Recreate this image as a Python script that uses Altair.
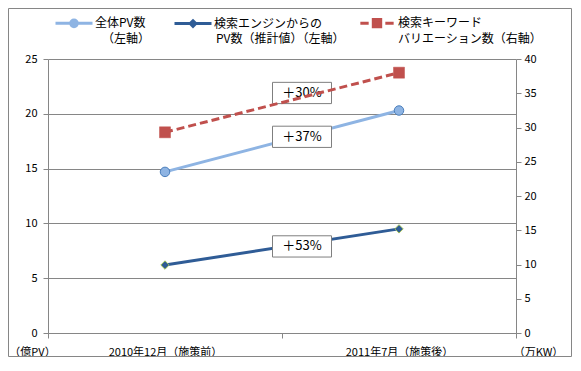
import altair as alt
import pandas as pd

FONT = "Noto Sans CJK JP"
GRAY = "#868686"

categories = ["2010年12月（施策前）", "2011年7月（施策後）"]
series_line1 = ["全体PV数", "検索エンジンからの", "検索キーワード"]
series_line2 = ["（左軸）", "PV数（推計値）（左軸）", "バリエーション数（右軸）"]
total_pv = [14.7, 20.3]          # left axis (億PV)
search_pv = [6.2, 9.5]           # left axis (億PV)
keyword_variation = [29.3, 38.0]  # right axis (万KW)
left_ticks = [0, 5, 10, 15, 20, 25]
right_ticks = [0, 5, 10, 15, 20, 25, 30, 35, 40]
annotation_labels = ["＋30%", "＋37%", "＋53%"]
annotation_y = [21.9, 17.9, 7.9]  # in left-axis units

line_colors = ["#8EB4E3", "#2F5C96", "#C0504D"]
point_fills = ["#8EB4E3", "#2F5C96", "#C0504D"]
legend_shapes = [
    "M-1,0L1,0M-0.18,0a0.18,0.18 0 1,0 0.36,0a0.18,0.18 0 1,0 -0.36,0Z",
    "M-1,0L1,0M0,-0.15L0.15,0L0,0.15L-0.15,0Z",
    "M-0.9,0L-0.45,0M0.45,0L0.9,0M-0.2,-0.2h0.4v0.4h-0.4Z",
]

rows = []
for s, vals in zip(series_line1, [total_pv, search_pv, keyword_variation]):
    for c, v in zip(categories, vals):
        rows.append({"series": s, "category": c, "value": v})
df = pd.DataFrame(rows)
total_df = df[df["series"] == series_line1[0]]
search_df = df[df["series"] == series_line1[1]]
right_df = df[df["series"] == series_line1[2]]

ann_df = pd.DataFrame({"label": annotation_labels, "y": annotation_y,
                       "category": [categories[1]] * 3})
legend_df = pd.DataFrame({"series": series_line1, "category": [categories[0]] * 3,
                          "value": [0, 0, 0]})

x_scale = alt.Scale(type="band", domain=categories, paddingInner=0, paddingOuter=0)
x_axis = alt.Axis(title=None, tickBand="extent", labelFont=FONT, labelFontSize=11,
                  labelColor="black", domainColor=GRAY, tickColor=GRAY, tickSize=5,
                  labelPadding=8, labelAngle=0, grid=False)
x_enc = alt.X("category:N", scale=x_scale, sort=categories, axis=x_axis)

left_y_scale = alt.Scale(domain=[0, 25], nice=False, zero=True)
left_axis = alt.Axis(values=left_ticks, grid=True, gridColor=GRAY, gridWidth=1,
                     domainColor=GRAY, tickColor=GRAY, tickSize=5, labelPadding=6,
                     labelFont=FONT, labelFontSize=11, labelColor="black",
                     title="（億PV）", titleAngle=0, titleX=-16, titleY=293,
                     titleAlign="center", titleBaseline="middle", titleFont=FONT,
                     titleFontSize=11, titleFontWeight="normal", titleColor="black")
right_y_scale = alt.Scale(domain=[0, 40], nice=False, zero=True)
right_axis = alt.Axis(values=right_ticks, grid=False, orient="right",
                      domainColor=GRAY, tickColor=GRAY, tickSize=5, labelPadding=3,
                      labelFont=FONT, labelFontSize=11, labelColor="black",
                      title="（万KW）", titleAngle=0, titleX=22, titleY=293,
                      titleAlign="center", titleBaseline="middle", titleFont=FONT,
                      titleFontSize=11, titleFontWeight="normal", titleColor="black")

y_left = alt.Y("value:Q", scale=left_y_scale, axis=left_axis)
y_right = alt.Y("value:Q", scale=right_y_scale, axis=right_axis)

line_total = alt.Chart(total_df).mark_line(strokeWidth=3, stroke=line_colors[0]).encode(
    x=x_enc, y=y_left)
line_search = alt.Chart(search_df).mark_line(strokeWidth=3, stroke=line_colors[1]).encode(
    x=x_enc, y=y_left)

pt_total = alt.Chart(total_df).mark_point(
    shape="circle", filled=True, size=90, fill="#8EB4E3", stroke="#4A7EBB",
    strokeWidth=1, opacity=1).encode(x=x_enc, y=y_left)
pt_search = alt.Chart(search_df).mark_point(
    shape="diamond", filled=True, size=70, fill="#2F5C96", stroke="#9BBB59",
    strokeWidth=1, opacity=1).encode(x=x_enc, y=y_left)

label_style = dict(labelFont=FONT, labelFontSize=12, labelColor="black", labelLimit=250)

# first legend row: symbols + first line of each label
# (the middle entry gets a blank braille cell so its column is as wide as its second line)
legend_main = dict(
    title=None, orient="none", legendX=6, legendY=-56, direction="horizontal",
    columns=3, symbolSize=1369, symbolStrokeWidth=3, padding=0,
    labelExpr="datum.label == '" + series_line1[1] + "' ? datum.label + '\u2800' : datum.label",
    columnPadding=22, labelOffset=1, **label_style,
)

legend_layer = alt.Chart(legend_df).mark_point(
    filled=True, size=0, opacity=1, strokeWidth=3).encode(
    x=x_enc, y=y_left,
    fill=alt.Fill("series:N", scale=alt.Scale(domain=series_line1, range=point_fills),
                  legend=alt.Legend(**legend_main)),
    stroke=alt.Stroke("series:N", scale=alt.Scale(domain=series_line1, range=line_colors),
                      legend=alt.Legend(**legend_main)),
    shape=alt.Shape("series:N", scale=alt.Scale(domain=series_line1, range=legend_shapes),
                    legend=alt.Legend(**legend_main)),
)

# second legend row: second line of each label (no visible symbol)
second_x = [42, 156, 338]
second_layers = []
for i in range(3):
    d = pd.DataFrame({"label2": [series_line2[i]], "category": [categories[0]],
                      "value": [0]})
    lg = alt.Legend(title=None, orient="none", legendX=second_x[i], legendY=-26,
                    symbolSize=1, symbolOpacity=0, symbolStrokeWidth=0, padding=0,
                    labelOffset=0, **label_style)
    second_layers.append(
        alt.Chart(d).mark_point(filled=True, color="white", size=0, opacity=0,
                                strokeWidth=0).encode(
            x=x_enc, y=y_left,
            size=alt.Size("label2:O",
                          scale=alt.Scale(domain=[series_line2[i]], range=[1, 1]),
                          legend=lg)))

ann_x = alt.X("category:N", scale=x_scale, sort=categories, bandPosition=0, axis=x_axis)
ann_box = alt.Chart(ann_df).mark_point(
    shape="M-1,-0.36H1V0.36H-1Z", size=3481, filled=True, fill="white",
    stroke="#7F7F7F", strokeWidth=1, opacity=1, xOffset=20).encode(
    x=ann_x, y=alt.Y("y:Q", scale=left_y_scale))
ann_text = alt.Chart(ann_df).mark_text(
    font=FONT, fontSize=13, color="black", align="center", baseline="middle",
    xOffset=20).encode(x=ann_x, y=alt.Y("y:Q", scale=left_y_scale), text="label:N")

left_layer = alt.layer(line_total, line_search, pt_total, pt_search, legend_layer,
                       *second_layers, ann_box, ann_text).resolve_scale(size="independent")

right_line = alt.Chart(right_df).mark_line(
    strokeWidth=3, strokeDash=[8, 4], stroke=line_colors[2]).encode(x=x_enc, y=y_right)
right_pts = alt.Chart(right_df).mark_point(
    shape="square", filled=True, size=121, fill="#C0504D", stroke="#C0504D",
    strokeWidth=0.5, opacity=1).encode(x=x_enc, y=y_right)
right_layer = alt.layer(right_line, right_pts)

border = alt.Chart(pd.DataFrame({"a": [0]})).mark_rect(
    fill=None, stroke=GRAY, strokeWidth=1).encode(
    x=alt.value(-39.5), x2=alt.value(523.5), y=alt.value(-50.5), y2=alt.value(297.5))

chart = alt.layer(left_layer, right_layer, border).resolve_scale(
    y="independent", size="independent"
).properties(
    width=468, height=274,
    autosize=alt.AutoSizeParams(type="none"),
    padding={"left": 40, "top": 51, "right": 56, "bottom": 24},
    background="white",
).configure_view(stroke=None)

chart.save("out.html", embed_options={"renderer": "svg", "actions": False})
